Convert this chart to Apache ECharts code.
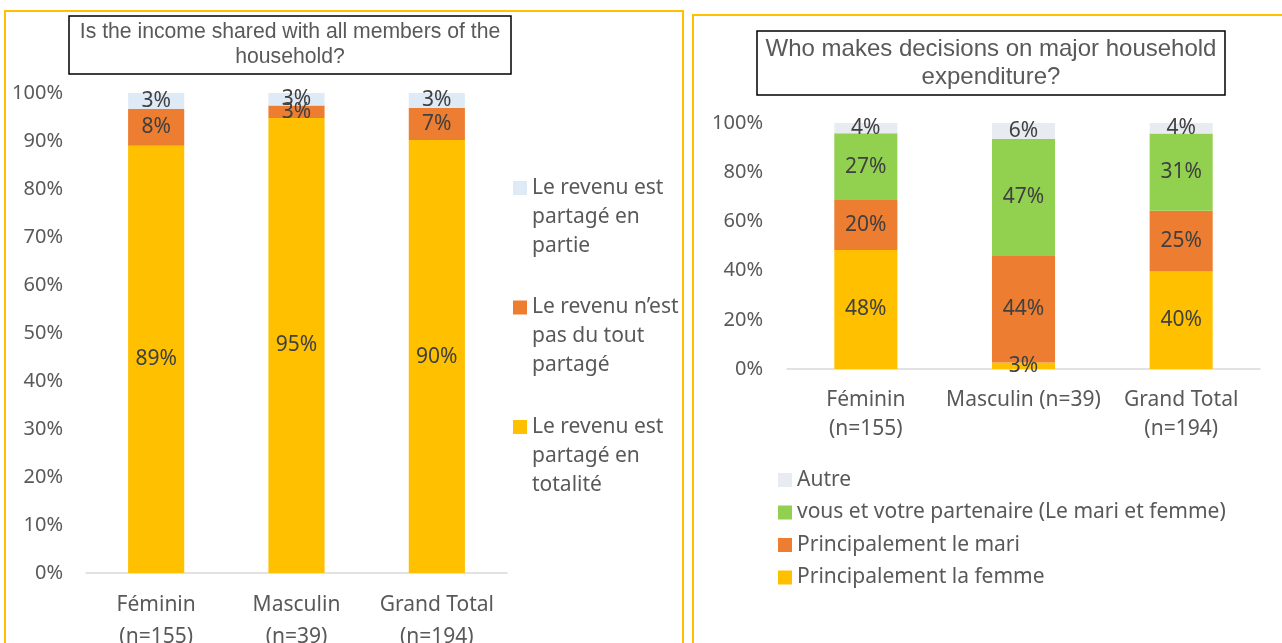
<!DOCTYPE html>
<html>
<head>
<meta charset="utf-8">
<title>Income sharing and household decisions</title>
<script src="https://cdn.jsdelivr.net/npm/echarts@6/dist/echarts.min.js"></script>
<style>
  html, body { margin: 0; padding: 0; background: #fff; }
  #main { width: 1282px; height: 643px; }
</style>
</head>
<body>
<div id="main"></div>
<script>
// categories
var categoriesLeft = ['Féminin\n(n=155)', 'Masculin\n(n=39)', 'Grand Total\n(n=194)'];
var categoriesRight = ['Féminin\n(n=155)', 'Masculin (n=39)', 'Grand Total\n(n=194)'];

// left chart : Is the income shared with all members of the household?
var partageTotalite = [89.0, 94.8, 90.2];
var partagePasDuTout = [7.7, 2.6, 6.7];
var partageEnPartie = [3.3, 2.6, 3.1];

// right chart : Who makes decisions on major household expenditure?
var laFemme = [48.4, 2.6, 39.6];
var leMari = [20.3, 43.6, 24.7];
var vousEtPartenaire = [27.1, 47.4, 31.4];
var autre = [4.2, 6.4, 4.3];

// axis ticks (percent)
var yLeftTicks = { min: 0, max: 100, interval: 10 };
var yRightTicks = { min: 0, max: 100, interval: 20 };

var FONT = 'Noto Sans';
var TEXT = '#595959';
var LABEL = '#404040';

var leftLegendLines = {
    'Le revenu est partagé en partie': 'Le revenu est\npartagé en\npartie',
    'Le revenu n’est pas du tout partagé': 'Le revenu n’est\npas du tout\npartagé',
    'Le revenu est partagé en totalité': 'Le revenu est\npartagé en\ntotalité'
};

// square sitting on the first of three text lines (tiny dots stretch the box)
var topSquareIcon = 'path://M0,7.5h14v14h-14z M0,0h0.01v0.01h-0.01z M0,87h0.01v0.01h-0.01z';

function pct(p) {
    return Math.round(p.value) + '%';
}

function barSeries(name, data, color, stack, axisIdx) {
    return {
        name: name,
        type: 'bar',
        stack: stack,
        xAxisIndex: axisIdx,
        yAxisIndex: axisIdx,
        barWidth: '40%',
        data: data,
        itemStyle: { color: color },
        label: {
            show: true,
            position: 'inside',
            formatter: pct,
            fontFamily: FONT,
            fontSize: 21,
            color: LABEL
        }
    };
}

var myChart = echarts.init(document.getElementById('main'));

var option = {
    backgroundColor: '#fff',
    animation: false,
    graphic: [
        { type: 'rect', silent: true, z: -10, shape: { x: 5, y: 11, width: 678, height: 660 },
          style: { fill: 'none', stroke: '#FFC000', lineWidth: 2 } },
        { type: 'rect', silent: true, z: -10, shape: { x: 693, y: 15, width: 640, height: 660 },
          style: { fill: 'none', stroke: '#FFC000', lineWidth: 2 } }
    ],
    title: [
        {
            text: 'Is the income shared with all members of the\nhousehold?',
            left: 279, top: 16,
            textAlign: 'center',
            padding: [4, 11],
            borderColor: '#000', borderWidth: 1.5,
            textStyle: { fontFamily: 'Liberation Sans', fontSize: 21.2, fontWeight: 'normal', color: TEXT, lineHeight: 25 }
        },
        {
            text: 'Who makes decisions on major household\nexpenditure?',
            left: 982, top: 31,
            textAlign: 'center',
            padding: [4, 9],
            borderColor: '#000', borderWidth: 1.5,
            textStyle: { fontFamily: 'Liberation Sans', fontSize: 24, fontWeight: 'normal', color: TEXT, lineHeight: 28 }
        }
    ],
    legend: [
        {
            orient: 'vertical',
            left: 508, top: 168.5,
            itemWidth: 14, itemHeight: 87, itemGap: 32.5,
            icon: topSquareIcon,
            selectedMode: false,
            data: ['Le revenu est partagé en partie', 'Le revenu n’est pas du tout partagé', 'Le revenu est partagé en totalité'],
            formatter: function (name) { return leftLegendLines[name]; },
            textStyle: { fontFamily: FONT, fontSize: 21, color: TEXT, lineHeight: 29 }
        },
        {
            orient: 'vertical',
            left: 773, top: 464,
            itemWidth: 14, itemHeight: 14, itemGap: 10.5,
            icon: 'rect',
            selectedMode: false,
            data: ['Autre', 'vous et votre partenaire (Le mari et femme)', 'Principalement le mari', 'Principalement la femme'],
            textStyle: { fontFamily: FONT, fontSize: 21, color: TEXT, lineHeight: 22 }
        }
    ],
    grid: [
        { left: 86, top: 93, width: 421, height: 480, outerBoundsMode: 'none' },
        { left: 787, top: 123, width: 473, height: 246, outerBoundsMode: 'none' }
    ],
    xAxis: [
        {
            type: 'category', gridIndex: 0, data: categoriesLeft,
            axisLine: { lineStyle: { color: '#D9D9D9', width: 1.5 } },
            axisTick: { show: false },
            axisLabel: { interval: 0, margin: 16.5, fontFamily: FONT, fontSize: 21, color: TEXT, lineHeight: 32 }
        },
        {
            type: 'category', gridIndex: 1, data: categoriesRight,
            axisLine: { lineStyle: { color: '#D9D9D9', width: 1.5 } },
            axisTick: { show: false },
            axisLabel: { interval: 0, hideOverlap: false, margin: 16.5, fontFamily: FONT, fontSize: 21, color: TEXT, lineHeight: 29 }
        }
    ],
    yAxis: [
        {
            type: 'value', gridIndex: 0,
            min: yLeftTicks.min, max: yLeftTicks.max, interval: yLeftTicks.interval,
            splitLine: { show: false },
            axisLine: { show: false }, axisTick: { show: false },
            axisLabel: { margin: 23, formatter: '{value}%', fontFamily: FONT, fontSize: 20, color: TEXT }
        },
        {
            type: 'value', gridIndex: 1,
            min: yRightTicks.min, max: yRightTicks.max, interval: yRightTicks.interval,
            splitLine: { show: false },
            axisLine: { show: false }, axisTick: { show: false },
            axisLabel: { margin: 24, formatter: '{value}%', fontFamily: FONT, fontSize: 20, color: TEXT }
        }
    ],
    series: [
        barSeries('Le revenu est partagé en totalité', partageTotalite, '#FFC000', 'left', 0),
        barSeries('Le revenu n’est pas du tout partagé', partagePasDuTout, '#ED7D31', 'left', 0),
        barSeries('Le revenu est partagé en partie', partageEnPartie, '#DEEBF7', 'left', 0),
        barSeries('Principalement la femme', laFemme, '#FFC000', 'right', 1),
        barSeries('Principalement le mari', leMari, '#ED7D31', 'right', 1),
        barSeries('vous et votre partenaire (Le mari et femme)', vousEtPartenaire, '#92D050', 'right', 1),
        barSeries('Autre', autre, '#E9EBF2', 'right', 1)
    ]
};

myChart.setOption(option);
window.addEventListener('resize', function () {
    myChart.resize();
});
</script>
</body>
</html>
